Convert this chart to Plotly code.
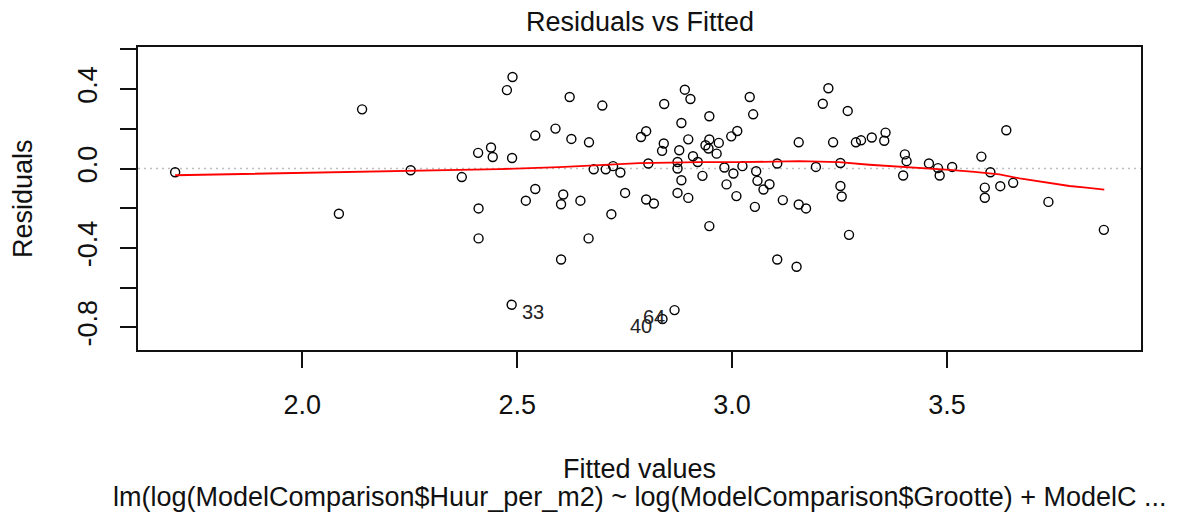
import plotly.graph_objects as go

# Fitted values and residuals of the log-rent model
fitted = [
    1.704, 2.085, 2.139, 2.252, 2.371, 2.409, 2.410, 2.410, 2.439, 2.443,
    2.476, 2.489, 2.488, 2.487, 2.520, 2.542, 2.542, 2.589, 2.602, 2.607,
    2.602, 2.622, 2.626, 2.647, 2.667, 2.666, 2.678, 2.698, 2.706, 2.723,
    2.740, 2.719, 2.751, 2.788, 2.800, 2.805, 2.800, 2.818, 2.837, 2.841,
    2.842, 2.838, 2.866, 2.873, 2.873, 2.877, 2.882, 2.882, 2.873, 2.890,
    2.898, 2.898, 2.903, 2.909, 2.920, 2.931, 2.938, 2.945, 2.947, 2.947,
    2.947, 2.964, 2.969, 2.982, 2.987, 2.998, 3.012, 3.003, 3.010, 3.024,
    3.041, 3.049, 3.053, 3.056, 3.059, 3.073, 3.087, 3.105, 3.105, 3.118,
    3.150, 3.155, 3.155, 3.172, 3.195, 3.211, 3.224, 3.235, 3.252, 3.252,
    3.255, 3.269, 3.272, 3.288, 3.300, 3.325, 3.357, 3.354, 3.402, 3.406,
    3.398, 3.458, 3.479, 3.483, 3.512, 3.580, 3.601, 3.588, 3.588, 3.624,
    3.638, 3.654, 3.736, 3.865,
]
residuals = [
    -0.019, -0.228, 0.298, -0.009, -0.043, 0.079, -0.201, -0.352, 0.106, 0.058,
    0.395, 0.461, 0.053, -0.686, -0.162, -0.103, 0.166, 0.201, -0.180, -0.131,
    -0.458, 0.360, 0.149, -0.162, 0.132, -0.352, -0.004, 0.317, -0.004, 0.012,
    -0.020, -0.230, -0.123, 0.159, 0.188, 0.025, -0.156, -0.176, 0.089, 0.126,
    0.325, -0.758, -0.713, 0.033, 0.000, 0.092, 0.229, -0.059, -0.123, 0.397,
    0.147, -0.148, 0.350, 0.062, 0.033, -0.037, 0.117, 0.101, 0.146, 0.263,
    -0.290, 0.075, 0.129, 0.005, -0.080, 0.162, 0.189, -0.025, -0.139, 0.012,
    0.360, 0.273, -0.193, -0.014, -0.062, -0.106, -0.079, 0.025, -0.458, -0.159,
    -0.495, 0.132, -0.181, -0.201, 0.008, 0.326, 0.404, 0.132, 0.028, -0.088,
    -0.141, 0.290, -0.334, 0.132, 0.142, 0.156, 0.181, 0.140, 0.071, 0.037,
    -0.035, 0.025, 0.002, -0.035, 0.008, 0.060, -0.019, -0.096, -0.147, -0.089,
    0.193, -0.072, -0.168, -0.309,
]

# Lowess smoother through the residuals
smooth_x = [1.704, 1.801, 1.992, 2.194, 2.388, 2.458, 2.598, 2.784, 2.924,
            3.017, 3.156, 3.249, 3.319, 3.389, 3.448, 3.506, 3.564, 3.622,
            3.669, 3.708, 3.745, 3.785, 3.824, 3.866]
smooth_y = [-0.034, -0.030, -0.022, -0.012, -0.004, -0.003, 0.007, 0.027,
            0.032, 0.032, 0.037, 0.032, 0.019, 0.010, 0.002, -0.007, -0.017,
            -0.029, -0.050, -0.062, -0.075, -0.088, -0.096, -0.106]

# Observations with the largest residuals
id_labels = ["33", "40", "64"]
id_index = [13, 41, 42]

x_ticks = [2.0, 2.5, 3.0, 3.5]
x_tick_text = ["2.0", "2.5", "3.0", "3.5"]
y_ticks = [-0.8, -0.6, -0.4, -0.2, 0.0, 0.2, 0.4, 0.6]
y_tick_text = ["-0.8", "", "-0.4", "", "0.0", "", "0.4", ""]

title = "Residuals vs Fitted"
x_label = "Fitted values"
y_label = "Residuals"
caption = "lm(log(ModelComparison$Huur_per_m2) ~ log(ModelComparison$Grootte) + ModelC ..."

FONT = "Liberation Sans, Arial, sans-serif"
BASE = 27

# axis limits padded by 4% as base graphics does
xmin, xmax = min(fitted), max(fitted)
xpad = 0.04 * (xmax - xmin)
x_range = [xmin - xpad, xmax + xpad]
y_range = [-0.914, 0.612]

fig = go.Figure()

fig.add_shape(type="line", xref="paper", x0=0, x1=1, yref="y", y0=0, y1=0,
              line=dict(color="#BEBEBE", width=1.5, dash="2px,4px"), layer="below")

fig.add_trace(go.Scatter(
    x=fitted, y=residuals, mode="markers",
    marker=dict(symbol="circle-open", size=9, color="black",
                line=dict(color="black", width=1.4)),
    showlegend=False, hoverinfo="x+y",
))

fig.add_trace(go.Scatter(
    x=smooth_x, y=smooth_y, mode="lines",
    line=dict(color="#FF0000", width=1.8),
    showlegend=False, hoverinfo="skip",
))

mid = (xmin + xmax) / 2
for lab, i in zip(id_labels, id_index):
    left_side = fitted[i] > mid
    fig.add_annotation(
        x=fitted[i], y=residuals[i], text=lab, showarrow=False,
        xanchor="right" if left_side else "left", yanchor="middle",
        xshift=-8 if left_side else 8, yshift=-7,
        font=dict(family=FONT, size=20, color="#222222"),
    )

txt = dict(family=FONT, size=BASE, color="#111111")
fig.add_annotation(x=0.5, y=1.0825, xref="paper", yref="paper", text=title,
                   showarrow=False, xanchor="center", yanchor="middle", font=txt)
fig.add_annotation(x=0.5, y=-0.3927, xref="paper", yref="paper", text=x_label,
                   showarrow=False, xanchor="center", yanchor="middle", font=txt)
fig.add_annotation(x=0.5, y=-0.4851, xref="paper", yref="paper", text=caption,
                   showarrow=False, xanchor="center", yanchor="middle", font=txt)
fig.add_annotation(x=-0.1152, y=0.5, xref="paper", yref="paper", text=y_label,
                   showarrow=False, xanchor="center", yanchor="middle",
                   textangle=-90, font=txt)

axis_common = dict(
    showgrid=False, zeroline=False, showline=True, mirror=True,
    linecolor="#111111", linewidth=2, ticks="outside", ticklen=16,
    tickwidth=2, tickcolor="#111111",
    tickfont=dict(family=FONT, size=BASE, color="#111111"),
)
fig.update_xaxes(range=x_range, tickvals=x_ticks, ticktext=x_tick_text,
                 ticklabelstandoff=14, **axis_common)
fig.update_yaxes(range=y_range, tickvals=y_ticks, ticktext=y_tick_text,
                 tickangle=-90, ticklabelstandoff=12, **axis_common)

fig.update_layout(
    width=1181, height=522,
    margin=dict(l=138, r=40, t=47, b=172),
    paper_bgcolor="white", plot_bgcolor="white",
    font=dict(family=FONT, size=BASE, color="#111111"),
)

fig.write_html("out.html")
